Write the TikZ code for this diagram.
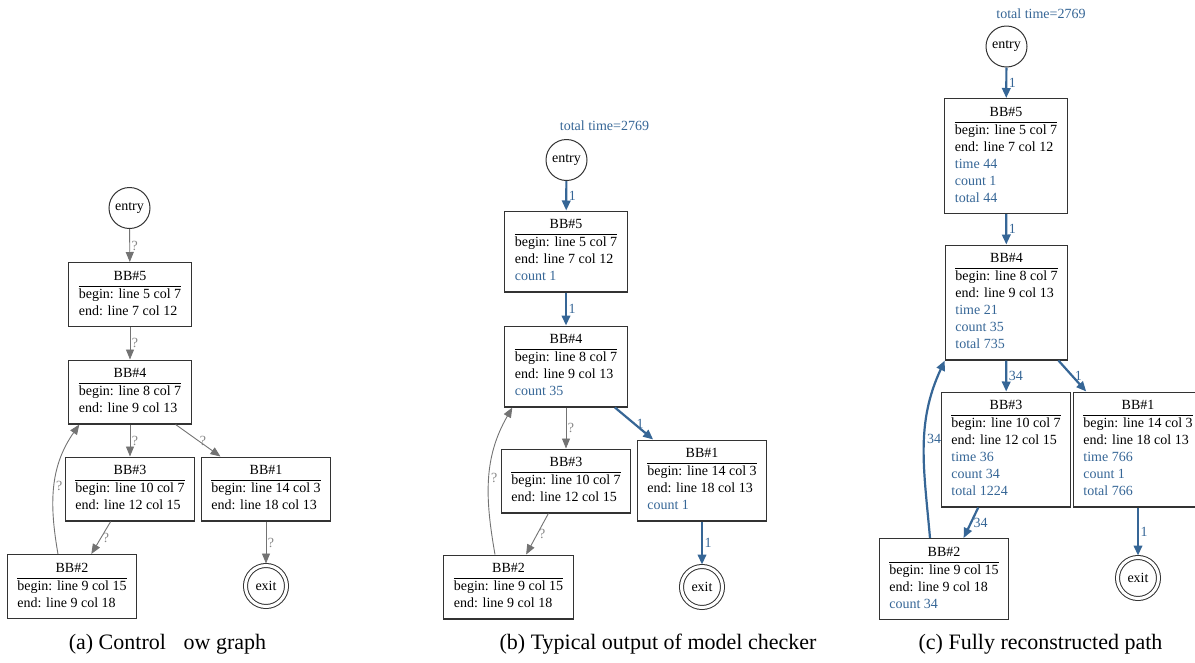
\documentclass[tikz,border=0pt]{standalone}
\usepackage{fontspec}
\setmainfont{Liberation Serif}
\usetikzlibrary{arrows.meta}
\setlength{\arrayrulewidth}{0.9pt}
\newcommand{\bbtext}[2]{\begin{tabular}{@{}l@{}}\multicolumn{1}{@{}c@{}}{#1}\\\hline #2\end{tabular}}
\newcommand{\hl}[1]{\textcolor{kBlue}{#1}}
\begin{document}
\begin{tikzpicture}[x=1pt,y=-1pt,
  every node/.style={font=\fontsize{14}{17}\selectfont},
  bbox/.style={draw=kLine,line width=1.1pt,rectangle,inner xsep=10pt,inner ysep=6pt},
  endpt/.style={draw=kLine,line width=1pt,circle,minimum size=41pt,inner sep=0pt},
  exitpt/.style={endpt,double,double distance=3pt,outer sep=2pt},
  qedge/.style={draw=kGrey,line width=0.9pt,-{Triangle[length=10pt,width=8pt]}},
  pedge/.style={draw=kBlue,line width=2.2pt,-{Triangle[length=10pt,width=8.5pt]}},
  qlab/.style={right,inner sep=1.5pt,text=kGrey!85},
  plab/.style={right,inner sep=1.5pt,text=kBlue},
  caption/.style={font=\fontsize{22}{26}\selectfont}]
  \definecolor{kGrey}{rgb}{0.45,0.45,0.45}
  \definecolor{kBlue}{rgb}{0.21,0.40,0.59}
  \definecolor{kLine}{rgb}{0.20,0.20,0.20}
  \useasboundingbox (0,0) rectangle (1195,662);

  % (a) control flow graph
  \node[endpt] (a0) at (129.5,208) {entry};
  \node[bbox] (a5) at (130,294.5) {\bbtext{BB\#5}{begin: line 5 col 7\\end: line 7 col 12}};
  \node[bbox] (a4) at (130,392) {\bbtext{BB\#4}{begin: line 8 col 7\\end: line 9 col 13}};
  \node[bbox] (a3) at (130,489) {\bbtext{BB\#3}{begin: line 10 col 7\\end: line 12 col 15}};
  \node[bbox] (a1) at (266,489) {\bbtext{BB\#1}{begin: line 14 col 3\\end: line 18 col 13}};
  \node[bbox] (a2) at (72,586.5) {\bbtext{BB\#2}{begin: line 9 col 15\\end: line 9 col 18}};
  \node[exitpt] (ax) at (266,586) {exit};
  \foreach \s/\t in {a0/a5,a5/a4,a4/a3,a4/a1,a3/a2,a1/ax}
    \draw[qedge] (\s) -- node[qlab] {?} (\t);
  \draw[qedge] ([xshift=-14pt]a2.north) to[out=100,in=-125] node[qlab] {?} ([xshift=11pt]a4.south west);
  \node[caption] (acap) at (167.5,644) {(a) Control \hspace{0.556em}ow graph};

  % (b) model checker output
  \node[text=kBlue] (btime) at (604.5,126) {total time=2769};
  \node[endpt] (b0) at (566.5,160) {entry};
  \node[bbox] (b5) at (566,251.5) {\bbtext{BB\#5}{begin: line 5 col 7\\end: line 7 col 12\\\hl{count 1}}};
  \node[bbox] (b4) at (566,366.5) {\bbtext{BB\#4}{begin: line 8 col 7\\end: line 9 col 13\\\hl{count 35}}};
  \node[bbox] (b3) at (566,481) {\bbtext{BB\#3}{begin: line 10 col 7\\end: line 12 col 15}};
  \node[bbox] (b1) at (702,480.5) {\bbtext{BB\#1}{begin: line 14 col 3\\end: line 18 col 13\\\hl{count 1}}};
  \node[bbox] (b2) at (508.5,587) {\bbtext{BB\#2}{begin: line 9 col 15\\end: line 9 col 18}};
  \node[exitpt] (bx) at (702,587) {exit};
  \foreach \s/\t in {b0/b5,b5/b4,b4/b1,b1/bx}
    \draw[pedge] (\s) -- node[plab] {1} (\t);
  \foreach \s/\t in {b4/b3,b3/b2}
    \draw[qedge] (\s) -- node[qlab] {?} (\t);
  \draw[qedge] ([xshift=-13.5pt]b2.north) to[out=100,in=-120] node[qlab] {?} ([xshift=8pt]b4.south west);
  \node[caption] (bcap) at (658,644) {(b) Typical output of model checker};

  % (c) reconstructed path
  \node[text=kBlue] (ctime) at (1041,14) {total time=2769};
  \node[endpt] (c0) at (1006.5,46.5) {entry};
  \node[bbox] (c5) at (1006,156) {\bbtext{BB\#5}{begin: line 5 col 7\\end: line 7 col 12\\\hl{time 44}\\\hl{count 1}\\\hl{total 44}}};
  \node[bbox] (c4) at (1006.5,302.5) {\bbtext{BB\#4}{begin: line 8 col 7\\end: line 9 col 13\\\hl{time 21}\\\hl{count 35}\\\hl{total 735}}};
  \node[bbox] (c3) at (1006,449.5) {\bbtext{BB\#3}{begin: line 10 col 7\\end: line 12 col 15\\\hl{time 36}\\\hl{count 34}\\\hl{total 1224}}};
  \node[bbox] (c1) at (1138,449.5) {\bbtext{BB\#1}{begin: line 14 col 3\\end: line 18 col 13\\\hl{time 766}\\\hl{count 1}\\\hl{total 766}}};
  \node[bbox] (c2) at (944,579) {\bbtext{BB\#2}{begin: line 9 col 15\\end: line 9 col 18\\\hl{count 34}}};
  \node[exitpt] (cx) at (1138,578) {exit};
  \foreach \s/\t/\n in {c0/c5/1,c5/c4/1,c4/c3/34,c4/c1/1,c3/c2/34,c1/cx/1}
    \draw[pedge] (\s) -- node[plab] {\n} (\t);
  \draw[pedge] ([xshift=-14pt]c2.north) to[out=95,in=-115] node[plab,pos=.55] {34} (c4.south west);
  \node[caption] (ccap) at (1040.5,644) {(c) Fully reconstructed path};
\end{tikzpicture}
\end{document}
